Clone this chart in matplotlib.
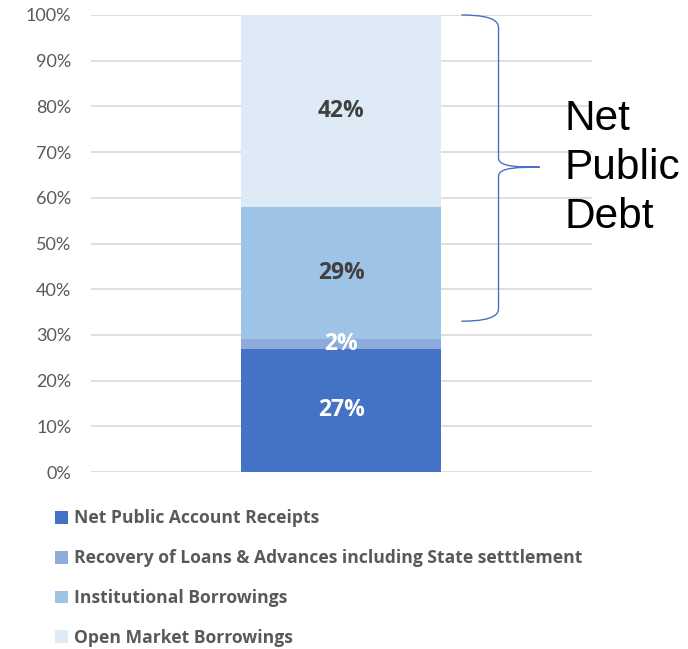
import matplotlib
matplotlib.use("Agg")
import matplotlib.pyplot as plt
from matplotlib.path import Path
from matplotlib.patches import PathPatch, Patch

plt.rcParams['font.family'] = ['Lato', 'DejaVu Sans']
BOLD_FAMILY = ['Open Sans', 'DejaVu Sans']

# Composition of receipts (share of total, %)
categories = [
    "Net Public Account Receipts",
    "Recovery of Loans & Advances including State setttlement",
    "Institutional Borrowings",
    "Open Market Borrowings",
]
shares = [27, 2, 29, 42]
colors = ["#4472C4", "#8FAADC", "#9DC3E6", "#DEEBF7"]
label_colors = ["white", "white", "#404040", "#404040"]
yticks = [0, 10, 20, 30, 40, 50, 60, 70, 80, 90, 100]
ytick_labels = [f"{v}%" for v in yticks]

fig = plt.figure(figsize=(6.88, 6.49), dpi=100)
ax = fig.add_axes([0.132, 0.2727, 0.728, 0.7042])

bottom = 0
handles = []
for name, val, col, lc in zip(categories, shares, colors, label_colors):
    ax.bar(0, val, bottom=bottom, width=0.4, color=col, zorder=2)
    ax.text(0, bottom + val / 2, f"{val}%", ha="center", va="center",
            fontsize=16.5, fontweight="bold", family=BOLD_FAMILY,
            color=lc, zorder=3)
    handles.append(Patch(facecolor=col, label=name))
    bottom += val

ax.set_xlim(-0.5, 0.5)
ax.set_ylim(0, 100)
ax.set_yticks(yticks)
ax.set_yticklabels(ytick_labels, color="#595959", fontsize=13)
ax.set_xticks([])
ax.tick_params(axis="y", length=0, pad=14)
ax.grid(axis="y", color="#D9D9D9", linewidth=1.2, zorder=0)
for s in ax.spines.values():
    s.set_visible(False)

# Curly brace grouping the borrowings
x0, xv, xt = 0.74, 0.814, 0.896
yb, ym, yt = 0.33, 0.667, 1.0
verts = [
    (x0, yt), (xv, yt), (xv, yt - 0.02), (xv, yt - 0.03),
    (xv, ym + 0.02),
    (xv, ym), (xt - 0.04, ym), (xt, ym),
    (xt - 0.04, ym), (xv, ym), (xv, ym - 0.02),
    (xv, yb + 0.03),
    (xv, yb + 0.02), (xv, yb), (x0, yb),
]
codes = [
    Path.MOVETO, Path.CURVE4, Path.CURVE4, Path.CURVE4,
    Path.LINETO,
    Path.CURVE4, Path.CURVE4, Path.CURVE4,
    Path.CURVE4, Path.CURVE4, Path.CURVE4,
    Path.LINETO,
    Path.CURVE4, Path.CURVE4, Path.CURVE4,
]
brace = PathPatch(Path(verts, codes), transform=ax.transAxes, fill=False,
                  edgecolor="#4472C4", linewidth=1.0, clip_on=False, zorder=4)
ax.add_patch(brace)

fig.text(565 / 688, 1 - 168 / 649, "Net\nPublic\nDebt", ha="left", va="center",
         fontsize=30.5, color="black", family="Liberation Sans", linespacing=1.3)

fig.legend(handles=handles, loc="upper left", bbox_to_anchor=(0.07, 0.226),
           frameon=False, ncol=1, handlelength=0.75, handleheight=0.75,
           handletextpad=0.3, labelspacing=1.25, borderaxespad=0,
           prop={"weight": "bold", "size": 12.6, "family": BOLD_FAMILY},
           labelcolor="#595959")

fig.savefig("out.png", dpi=100)
